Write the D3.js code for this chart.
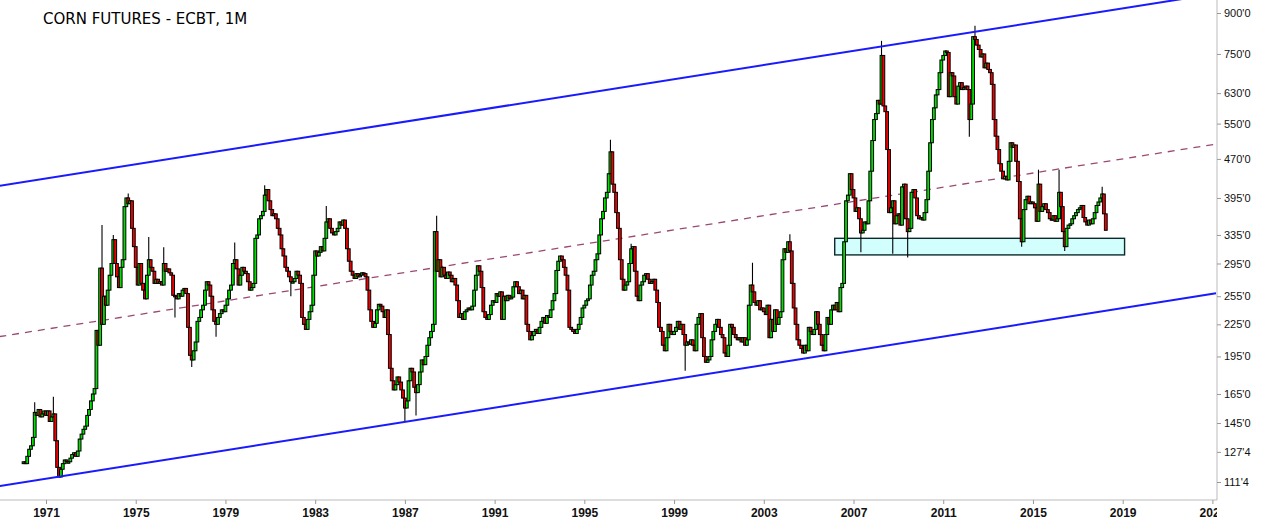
<!DOCTYPE html>
<html>
<head>
<meta charset="utf-8">
<style>
  html, body { margin: 0; padding: 0; background: #fff; }
  svg { display: block; }
  .title { font-family: "DejaVu Sans", Verdana, sans-serif; font-size: 15px; fill: #000; }
  .axis text { font-family: "Liberation Sans", Arial, sans-serif; fill: #111; }
  .axis .tick line { stroke: #999; }
  .xaxis text { font-family: "Liberation Sans Narrow", "Liberation Sans", Arial, sans-serif; }
</style>
</head>
<body>
<div id="wrapper"></div>
<script src="https://d3js.org/d3.v7.min.js"></script>
<script>
// monthly closes (cents/bu), Jan 1970 .. Apr 2018
const firstMonth = '1970-01';
const firstOpen = 121;
const closes = [
	122, 121, 125, 129, 131, 136, 152, 150, 154, 149, 151, 153, // 1970
	150, 153, 146, 149, 151, 134, 119, 114, 118, 121, 123, 122, // 1971
	122, 124, 126, 127, 125, 128, 135, 138, 141, 143, 150, 154, // 1972
	160, 165, 169, 219, 205, 289, 225, 255, 245, 262, 280, 295, // 1973
	328, 295, 278, 265, 290, 300, 380, 395, 385, 390, 345, 318, // 1974
	290, 268, 295, 270, 262, 252, 280, 300, 290, 285, 270, 275, // 1975
	270, 272, 268, 295, 285, 288, 283, 280, 256, 255, 252, 258, // 1976
	255, 262, 264, 258, 222, 196, 192, 200, 208, 228, 232, 240, // 1977
	245, 262, 272, 268, 255, 240, 228, 225, 232, 236, 240, 238, // 1978
	245, 252, 262, 268, 295, 300, 288, 268, 280, 290, 285, 282, // 1979
	272, 262, 265, 270, 330, 335, 360, 365, 372, 400, 410, 390, // 1980
	375, 365, 368, 360, 345, 335, 315, 305, 290, 285, 278, 272, // 1981
	272, 276, 285, 280, 270, 232, 225, 220, 230, 238, 245, 280, // 1982
	312, 305, 310, 318, 312, 330, 355, 360, 345, 338, 335, 340, // 1983
	345, 355, 350, 358, 345, 315, 298, 285, 280, 276, 282, 278, // 1984
	280, 283, 282, 278, 262, 240, 228, 222, 226, 240, 246, 244, // 1985
	238, 232, 240, 215, 185, 175, 168, 172, 178, 174, 168, 162, // 1986
	155, 160, 175, 185, 182, 170, 166, 172, 182, 192, 188, 195, // 1987
	205, 212, 218, 225, 340, 285, 300, 278, 290, 280, 276, 284, // 1988
	280, 272, 276, 268, 250, 232, 236, 230, 238, 240, 242, 240, // 1989
	244, 262, 280, 292, 285, 265, 238, 232, 230, 235, 245, 250, // 1990
	248, 258, 255, 260, 230, 255, 250, 256, 252, 254, 266, 272, // 1991
	266, 258, 262, 252, 256, 225, 218, 210, 214, 218, 220, 216, // 1992
	222, 228, 232, 226, 234, 232, 240, 250, 258, 286, 298, 305, // 1993
	300, 290, 280, 262, 222, 220, 218, 216, 220, 225, 232, 242, // 1994
	245, 250, 252, 268, 280, 285, 300, 308, 335, 360, 372, 395, // 1995
	405, 440, 485, 420, 405, 370, 345, 300, 275, 262, 268, 272, // 1996
	295, 315, 318, 285, 255, 250, 268, 272, 280, 282, 275, 270, // 1997
	272, 275, 262, 248, 222, 218, 205, 200, 212, 225, 218, 215, // 1998
	218, 222, 228, 220, 225, 215, 205, 208, 206, 210, 205, 200, // 1999
	225, 232, 236, 212, 195, 190, 192, 195, 210, 218, 225, 230, // 2000
	222, 215, 212, 198, 195, 205, 225, 222, 215, 212, 210, 212, // 2001
	208, 212, 205, 210, 245, 268, 260, 248, 245, 250, 240, 242, // 2002
	238, 235, 245, 212, 230, 218, 240, 225, 232, 238, 300, 315, // 2003
	310, 325, 312, 270, 242, 225, 210, 205, 202, 198, 205, 200, // 2004
	222, 218, 215, 220, 238, 225, 215, 205, 200, 215, 232, 225, // 2005
	240, 245, 240, 248, 238, 265, 270, 325, 390, 400, 440, 410, // 2006
	395, 372, 378, 360, 338, 342, 355, 352, 390, 445, 510, 560, // 2007
	575, 610, 600, 745, 595, 580, 490, 370, 378, 390, 352, 365, // 2008
	368, 350, 415, 420, 360, 340, 345, 405, 410, 395, 365, 360, // 2009
	362, 358, 370, 392, 445, 505, 560, 590, 625, 640, 690, 730, // 2010
	745, 760, 755, 620, 690, 680, 620, 600, 650, 660, 640, 645, // 2011
	650, 640, 560, 600, 810, 800, 780, 765, 740, 750, 705, 720, // 2012
	700, 690, 655, 560, 520, 490, 460, 445, 430, 435, 428, 465, // 2013
	505, 495, 500, 465, 425, 360, 325, 375, 392, 398, 385, 388, // 2014
	385, 378, 356, 420, 372, 380, 385, 375, 370, 360, 358, 365, // 2015
	356, 360, 405, 380, 340, 318, 345, 350, 352, 360, 365, 370, // 2016
	375, 378, 382, 362, 355, 350, 358, 352, 360, 370, 382, 388, // 2017
	395, 402, 368, 342                                          // 2018
];
// notable wicks beyond the body: [month index, high, low]
const wicks = [
	[6, 159, null], [16, 163, null], [42, 350, null], [48, 335, null],
	[56, 403, null], [67, 332, null], [75, 317, null], [81, null, 232],
	[90, null, 186], [103, null, 213], [113, 324, null], [129, 418, null],
	[143, null, 255], [162, 381, null], [204, null, 146], [210, null, 150],
	[221, 365, null], [314, 512, null], [325, 322, null], [354, null, 183],
	[390, 296, null], [410, 336, null], [448, null, 310], [459, 795, null],
	[465, null, 308], [473, null, 303], [506, null, 519], [509, 850, null],
	[534, null, 318], [543, 448, null], [554, 448, null], [557, null, 312],
	[577, 415, null]
];
const yearTicks = [1971, 1975, 1979, 1983, 1987, 1991, 1995, 1999, 2003, 2007, 2011, 2015, 2019, 2023];
const priceTicks = [111.5, 127.5, 145, 165, 195, 225, 255, 295, 335, 395, 470, 550, 630, 750, 900];
const priceLabels = ["111'4", "127'4", "145'0", "165'0", "195'0", "225'0", "255'0", "295'0",
	"335'0", "395'0", "470'0", "550'0", "630'0", "750'0", "900'0"];
const channelUpper = [['1968-12', 417], ['2023-03', 981]];
const channelLower = [['1968-12', 109.5], ['2023-03', 258.3]];
const channelMid = [['1968-12', 213], ['2023-03', 502]];
const supportBox = [['2006-03', 306.5], ['2019-02', 330]];

(() => {
	const width = 1261, height = 522;
	const plotRight = 1217, plotBottom = 500;
	const parseMonth = d3.utcParse('%Y-%m');
	const start = parseMonth(firstMonth);

	const svg = d3.select('#wrapper').append('svg')
		.attr('width', width)
		.attr('height', height);

	const x = d3.scaleUtc()
		.domain([new Date(Date.UTC(1971, 0, 1)), new Date(Date.UTC(2023, 0, 1))])
		.range([46, 1212.4]);
	const y = d3.scaleLog()
		.domain([111.5, 900])
		.range([482, 13]);

	const defs = svg.append('defs');
	defs.append('clipPath').attr('id', 'plot')
		.append('rect').attr('x', 0).attr('y', 0).attr('width', plotRight).attr('height', plotBottom);
	defs.append('clipPath').attr('id', 'xlabels')
		.append('rect').attr('x', 0).attr('y', 0).attr('width', plotRight).attr('height', height);

	const plot = svg.append('g').attr('clip-path', 'url(#plot)');

	// support zone
	const bx0 = x(parseMonth(supportBox[0][0])), bx1 = x(parseMonth(supportBox[1][0]));
	plot.append('rect')
		.attr('x', bx0)
		.attr('y', y(supportBox[1][1]))
		.attr('width', bx1 - bx0)
		.attr('height', y(supportBox[0][1]) - y(supportBox[1][1]))
		.style('fill', '#d2fefe')
		.style('stroke', '#0c2a2a')
		.style('stroke-width', 1.4);

	const drawLine = (pts) => plot.append('line')
		.attr('x1', x(parseMonth(pts[0][0]))).attr('y1', y(pts[0][1]))
		.attr('x2', x(parseMonth(pts[1][0]))).attr('y2', y(pts[1][1]));

	drawLine(channelMid)
		.style('stroke', '#9a4a72')
		.style('stroke-width', 1.3)
		.style('stroke-dasharray', '7,6');

	// candles
	const wickMap = new Map(wicks.map((w) => [w[0], w]));
	const candles = closes.map((c, i) => {
		const open = i ? closes[i - 1] : firstOpen;
		const w = wickMap.get(i);
		return {
			date: d3.utcMonth.offset(start, i),
			open: open,
			close: c,
			high: w && w[1] ? w[1] : Math.max(open, c),
			low: w && w[2] ? w[2] : Math.min(open, c)
		};
	});

	const candle = plot.append('g').selectAll('g')
		.data(candles)
		.enter()
		.append('g')
		.attr('transform', (d) => 'translate(' + x(d.date) + ',0)');

	candle.append('line')
		.attr('y1', (d) => y(d.high))
		.attr('y2', (d) => y(d.low))
		.style('stroke', '#000')
		.style('stroke-width', 1.1);

	candle.append('rect')
		.attr('x', -1.4)
		.attr('width', 2.8)
		.attr('y', (d) => y(Math.max(d.open, d.close)))
		.attr('height', (d) => Math.max(1.5, y(Math.min(d.open, d.close)) - y(Math.max(d.open, d.close))))
		.style('fill', (d) => d.close >= d.open ? '#00e000' : '#f00000')
		.style('stroke', '#000')
		.style('stroke-width', 1);

	// channel
	[channelUpper, channelLower].forEach((pts) => {
		drawLine(pts)
			.style('stroke', '#1a1aff')
			.style('stroke-width', 2);
	});

	// axes
	svg.append('line')
		.attr('x1', plotRight).attr('x2', plotRight)
		.attr('y1', 0).attr('y2', plotBottom)
		.style('stroke', '#bbb');
	svg.append('line')
		.attr('x1', 0).attr('x2', plotRight)
		.attr('y1', plotBottom).attr('y2', plotBottom)
		.style('stroke', '#bbb');

	const yAxis = svg.append('g')
		.attr('class', 'axis')
		.attr('transform', 'translate(' + plotRight + ',0)')
		.call(d3.axisRight(y)
			.tickValues(priceTicks)
			.tickFormat((d, i) => priceLabels[i])
			.tickSize(4)
			.tickSizeOuter(0)
			.tickPadding(3));
	yAxis.select('.domain').remove();
	yAxis.selectAll('text').style('font-size', '11px');

	const xAxis = svg.append('g')
		.attr('class', 'axis xaxis')
		.attr('clip-path', 'url(#xlabels)')
		.attr('transform', 'translate(0,' + plotBottom + ')')
		.call(d3.axisBottom(x)
			.tickValues(yearTicks.map((yr) => new Date(Date.UTC(yr, 0, 1))))
			.tickFormat(d3.utcFormat('%Y'))
			.tickSize(4)
			.tickSizeOuter(0)
			.tickPadding(4));
	xAxis.select('.domain').remove();
	xAxis.selectAll('text')
		.style('font-size', '12px')
		.style('font-weight', 'bold');

	svg.append('text')
		.attr('class', 'title')
		.attr('x', 43)
		.attr('y', 24)
		.text('CORN FUTURES - ECBT, 1M');
})();
</script>
</body>
</html>
